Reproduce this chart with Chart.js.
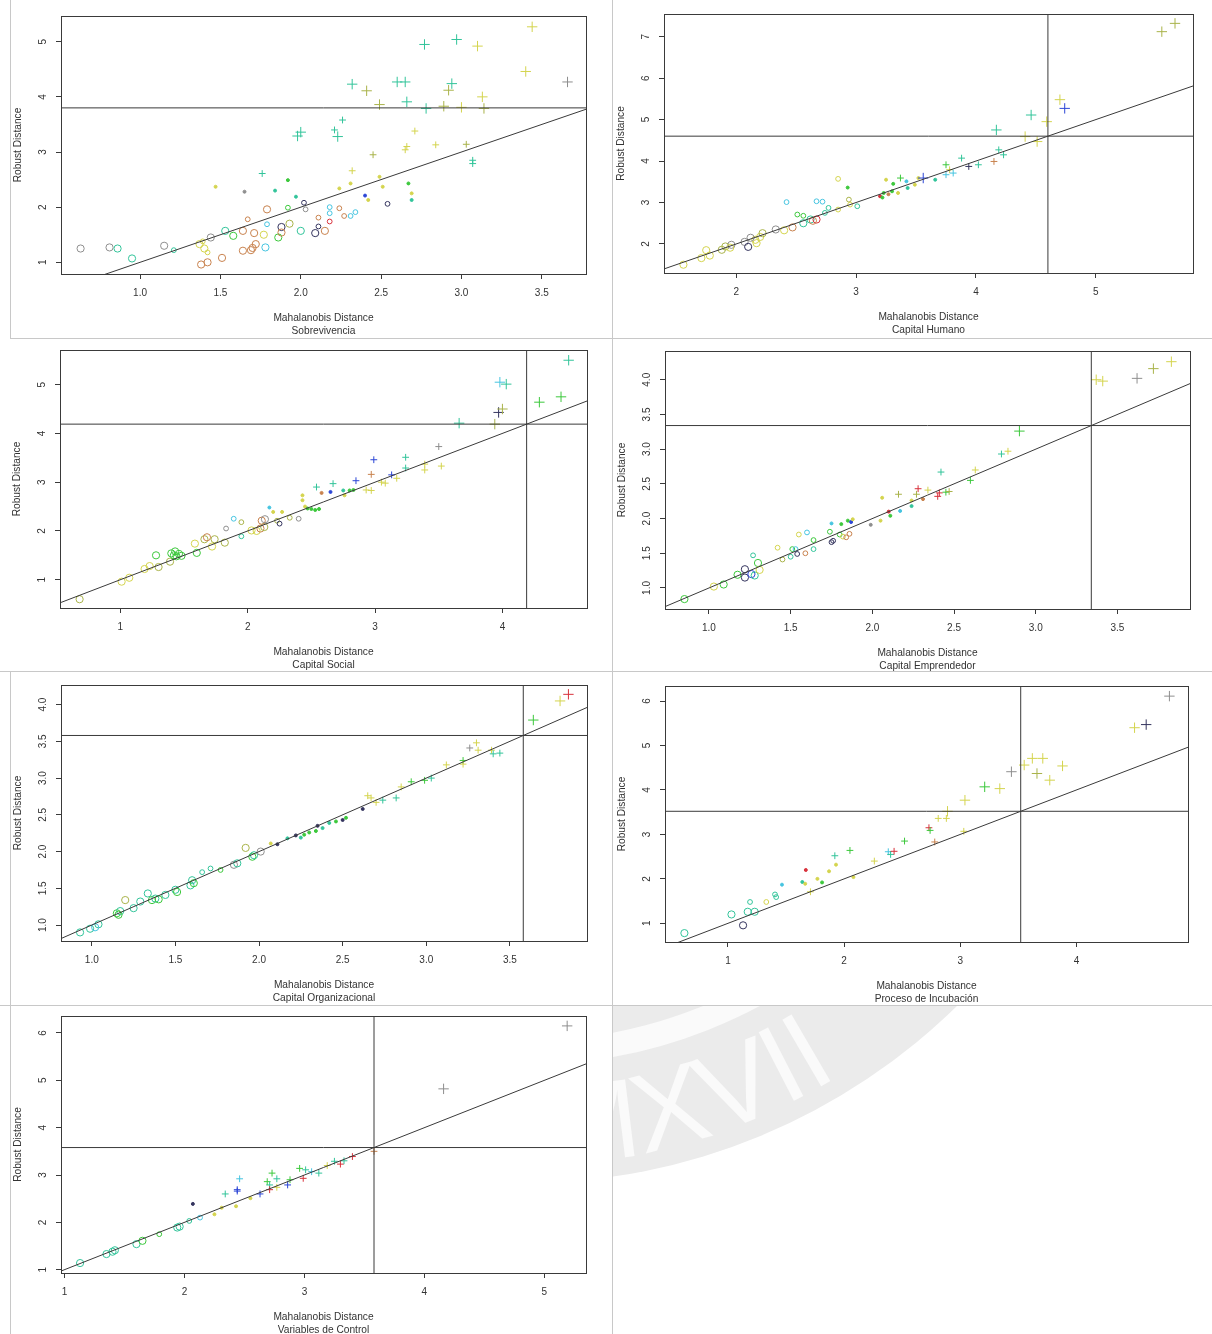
<!DOCTYPE html>
<html><head><meta charset="utf-8">
<script src="https://cdn.jsdelivr.net/npm/chart.js@4.4.0/dist/chart.umd.min.js"></script>
<style>
html,body{margin:0;padding:0;background:#fff;width:1212px;height:1334px;overflow:hidden;position:relative}
canvas{position:absolute}
.ln{position:absolute;background:#c8c8c8}
#seal{position:absolute;left:613px;top:1006px}
</style></head><body>
<svg id="seal" width="599" height="328" viewBox="0 0 599 328">
  <defs><path id="sealArc" d="M -205.2 563.8 A 600 600 0 0 0 563.8 205.2"/></defs>
  <g transform="translate(-89,-441)">
    <circle cx="0" cy="0" r="618" fill="#ebebeb"/>
    <circle cx="0" cy="0" r="488" fill="none" stroke="#fafafa" stroke-width="24"/>
    <text font-family="Liberation Sans, Arial, sans-serif" font-size="112" fill="#fafafa">
      <textPath href="#sealArc" startOffset="62">MCMXVII</textPath>
    </text>
  </g>
</svg>
<div class="ln" style="left:10px;top:0;width:1px;height:338px"></div>
<div class="ln" style="left:10px;top:672px;width:1px;height:662px"></div>
<div class="ln" style="left:612px;top:0;width:1px;height:1334px"></div>
<div class="ln" style="left:10px;top:338px;width:1202px;height:1px"></div>
<div class="ln" style="left:0;top:671px;width:1212px;height:1px"></div>
<div class="ln" style="left:0;top:1005px;width:1212px;height:1px"></div>
<canvas id="c0" width="606" height="340" style="left:0;top:0"></canvas>
<canvas id="c1" width="606" height="340" style="left:606px;top:0"></canvas>
<canvas id="c2" width="606" height="340" style="left:0;top:338px"></canvas>
<canvas id="c3" width="606" height="340" style="left:606px;top:338px"></canvas>
<canvas id="c4" width="606" height="340" style="left:0;top:672px"></canvas>
<canvas id="c5" width="606" height="340" style="left:606px;top:672px"></canvas>
<canvas id="c6" width="606" height="340" style="left:0;top:1005px"></canvas>
<script>
// ---------------- DATA ----------------
const subsets = ['Sobrevivencia','Capital Humano','Capital Social','Capital Emprendedor','Capital Organizacional','Proceso de Incubación','Variables de Control'];
const xTitle = 'Mahalanobis Distance';
const yTitle = 'Robust Distance';
const cutoffs = [3.80, 4.60, 4.19, 3.34, 3.58, 3.52, 3.58];
const xLimits = [[0.508,3.775],[1.398,5.81],[0.526,4.664],[0.731,3.944],[0.816,3.961],[0.458,4.96],[0.971,5.347]];
const yLimits = [[0.788,5.466],[1.30,7.546],[0.42,5.71],[0.697,4.414],[0.783,4.267],[0.58,6.338],[0.93,6.359]];
const xTicks = [
  ['1.0','1.5','2.0','2.5','3.0','3.5'], ['2','3','4','5'], ['1','2','3','4'],
  ['1.0','1.5','2.0','2.5','3.0','3.5'], ['1.0','1.5','2.0','2.5','3.0','3.5'],
  ['1','2','3','4'], ['1','2','3','4','5']
];
const yTicks = [
  ['1','2','3','4','5'], ['2','3','4','5','6','7'], ['1','2','3','4','5'],
  ['1.0','1.5','2.0','2.5','3.0','3.5','4.0'], ['1.0','1.5','2.0','2.5','3.0','3.5','4.0'],
  ['1','2','3','4','5','6'], ['1','2','3','4','5','6']
];

// Sobrevivencia
const sobX = [0.63,0.81,0.86,0.95,1.15,1.21,1.37,1.40,1.39,1.42,
 1.44,1.38,1.42,1.51,1.58,1.64,1.64,1.69,1.70,1.72,
 1.71,1.67,1.77,1.79,1.78,1.79,1.86,1.88,1.88,1.92,
 1.93,2.00,2.02,2.03,2.09,2.15,2.11,2.11,2.18,2.18,
 2.18,2.24,2.27,2.31,2.34,2.54,1.53,1.47,1.65,1.76,
 1.84,1.92,1.97,2.42,2.40,2.24,2.69,2.69,2.67,2.51,
 2.49,2.31,2.32,2.45,2.65,2.66,2.71,2.84,3.03,3.07,
 3.07,1.98,2.00,2.21,2.23,2.26,2.32,2.41,2.49,2.60,
 2.65,2.66,2.77,2.78,2.89,2.92,2.94,2.97,3.00,3.10,
 3.13,3.14,3.40,3.44,3.66];
const sobY = [1.25,1.27,1.25,1.07,1.30,1.22,1.33,1.25,1.38,1.18,
 1.45,0.96,1.00,1.08,1.48,1.57,1.21,1.22,1.26,1.33,
 1.53,1.78,1.50,1.69,1.27,1.96,1.45,1.64,1.54,1.99,
 1.70,1.57,2.08,1.96,1.53,1.57,1.81,1.65,2.00,1.89,
 1.74,1.98,1.84,1.84,1.91,2.06,1.57,2.37,2.28,2.61,
 2.30,2.49,2.19,2.13,2.21,2.34,2.25,2.13,2.43,2.37,
 2.55,2.43,2.66,2.95,3.04,3.10,3.38,3.13,3.14,2.85,
 2.79,3.29,3.36,3.40,3.28,3.58,4.23,4.11,3.86,4.27,
 4.27,3.91,4.95,3.79,3.83,4.12,4.24,5.04,3.81,4.92,
 4.00,3.79,4.46,5.27,4.27];
const sobCls = 'OOOOOoOOooOOOOOOOOOOOoOoOOOOOoOOooOOooooooooooO..+............+++++++++PP+P+PPPPPPPPPPPPPPPPPPP';
const sobGrp = 'kkttktyyyykooogoooooooyccognogltnknoonccrooccntykttgtybyytgyyyylyyyylttttttttlltttttllttyyylyykyy';

// Capital Humano
const humX = [1.56,1.71,1.75,1.78,1.88,1.91,1.96,2.07,2.10,2.16,
 2.20,2.22,2.17,2.12,2.33,2.42,2.47,2.51,2.56,2.56,
 2.62,2.67,2.64,2.67,2.72,2.77,2.74,2.85,2.85,2.94,
 2.95,3.01,2.40,1.95,2.93,3.20,3.22,3.23,3.27,3.30,
 3.25,3.31,3.35,3.42,3.43,3.49,3.52,3.66,3.37,3.56,
 3.75,3.75,3.78,3.81,3.88,3.94,4.02,4.15,4.17,4.19,
 4.23,4.41,4.51,4.46,4.59,4.70,4.74,5.55,5.66];
const humY = [1.50,1.66,1.85,1.72,1.86,1.94,1.98,2.05,1.93,2.10,
 2.17,2.26,2.02,2.15,2.35,3.01,2.40,2.71,2.68,2.50,
 2.59,2.59,2.56,3.03,3.02,2.87,2.75,3.57,2.83,3.07,
 2.95,2.91,2.33,1.91,3.36,3.15,3.12,3.23,3.20,3.27,
 3.55,3.45,3.23,3.51,3.35,3.43,3.59,3.55,3.59,3.59,
 3.91,3.67,3.79,3.71,4.07,3.87,3.91,3.99,4.75,4.27,
 4.15,4.59,4.47,5.11,4.95,5.48,5.27,7.12,7.32];
const humCls = 'OOOOOOOOOOOOOOOoOooOOOOoooooooooOO..............+P++++++++P++PPPPPPPP';
const humGrp = 'yyyyllkknyylykkcoggttroccttyylytyygrggogygyctyytgbgcyctntotttyytyybll';

// Capital Social
const socX = [0.68,1.01,1.07,1.19,1.23,1.30,1.28,1.39,1.40,1.43,
 1.44,1.42,1.46,1.48,1.585,1.60,1.66,1.68,1.74,1.72,
 1.82,1.83,1.89,1.95,1.95,2.03,2.07,2.10,2.13,2.11,
 2.135,2.23,2.25,2.33,2.40,2.17,2.20,2.27,2.43,2.43,
 2.45,2.47,2.50,2.53,2.56,2.58,2.65,2.75,2.76,2.80,
 2.83,2.54,2.67,2.85,2.93,2.97,2.97,2.99,3.05,3.08,
 3.13,3.17,3.24,3.24,3.39,3.39,3.50,3.52,3.66,3.94,
 3.97,4.00,3.98,4.03,4.29,4.46,4.52];
const socY = [0.60,0.96,1.04,1.22,1.28,1.26,1.50,1.37,1.54,1.58,
 1.48,1.50,1.53,1.49,1.74,1.55,1.83,1.87,1.83,1.68,
 1.76,2.05,2.25,2.18,1.89,2.01,2.00,2.05,2.08,2.21,
 2.24,2.21,2.15,2.27,2.25,2.48,2.39,2.39,2.73,2.63,
 2.50,2.46,2.45,2.43,2.45,2.78,2.80,2.83,2.73,2.83,
 2.84,2.90,2.97,3.03,2.84,2.83,3.16,3.46,3.00,2.98,
 3.15,3.08,3.51,3.29,3.37,3.25,3.73,3.33,4.21,4.19,
 4.43,4.50,5.05,5.01,4.64,4.75,5.50];
const socCls = 'OOOOOOOOOOOOOOOOOOOOOooooOOOOOOoooo................+++++++++++++++++PPPPPPPPP';
const socGrp = 'lyyyylglggggggyglolylkcltyyoloklnlkcyyyyyggggobtyggttbyyobyybyttyykytlnlctggt';

// Capital Emprendedor
const empX = [0.85,1.03,1.09,1.175,1.22,1.22,1.26,1.28,1.27,1.30,
 1.31,1.42,1.45,1.50,1.51,1.53,1.54,1.55,1.59,1.60,
 1.64,1.64,1.74,1.75,1.76,1.80,1.82,1.84,1.86,1.75,
 1.81,1.85,1.87,1.88,1.99,2.05,2.06,2.10,2.11,2.17,
 2.24,2.24,2.31,2.16,2.27,2.28,2.34,2.40,2.41,2.42,
 2.45,2.47,2.60,2.63,2.79,2.83,2.90,3.37,3.41,3.62,
 3.72,3.83];
const empY = [0.84,1.02,1.05,1.19,1.27,1.15,1.20,1.18,1.47,1.36,
 1.26,1.58,1.41,1.45,1.56,1.56,1.49,1.77,1.50,1.80,
 1.56,1.69,1.81,1.66,1.68,1.77,1.74,1.73,1.78,1.93,
 1.92,1.97,1.95,1.99,1.91,1.97,2.30,2.10,2.04,2.11,
 2.18,2.26,2.28,2.35,2.35,2.43,2.41,2.32,2.37,2.67,
 2.38,2.39,2.55,2.70,2.93,2.97,3.26,4.00,3.98,4.02,
 4.16,4.26];
const empCls = 'OOOOOOOOoOOoooooooooooooooooo..............+++++++++++++PPPPPP';
const empGrp = 'gyggnnbttgyyltgcnyoctggnngyoocggbykyyrgctyollryrrtglgytygyykly';

// Capital Organizacional
const orgX = [0.93,0.99,1.04,1.02,1.15,1.17,1.16,1.20,1.25,1.29,
 1.335,1.36,1.38,1.40,1.44,1.50,1.51,1.59,1.60,1.61,
 1.66,1.71,1.77,1.85,1.87,1.92,1.96,1.97,2.01,2.07,
 2.11,2.17,2.22,2.25,2.27,2.30,2.34,2.35,2.38,2.42,
 2.46,2.50,2.52,2.62,2.65,2.67,2.70,2.74,2.82,2.85,
 2.91,2.99,3.03,3.12,3.22,3.22,3.26,3.30,3.31,3.39,
 3.40,3.44,3.64,3.80,3.85];
const orgY = [0.90,0.95,1.01,0.97,1.16,1.19,1.14,1.34,1.23,1.32,
 1.43,1.34,1.36,1.35,1.41,1.48,1.45,1.54,1.61,1.57,
 1.72,1.77,1.75,1.82,1.84,2.05,1.93,1.95,2.00,2.11,
 2.10,2.18,2.22,2.19,2.23,2.26,2.28,2.35,2.32,2.39,
 2.41,2.43,2.46,2.58,2.76,2.73,2.67,2.70,2.73,2.88,
 2.95,2.97,3.00,3.18,3.24,3.19,3.41,3.48,3.38,3.38,
 3.33,3.34,3.79,4.05,4.14];
const orgCls = 'OOOOOOOOOOOOOOOOOOOOoooOOOOOO...............++++++++++++++++++PPP';
const orgGrp = 'tttcgtgltttgtgttgttgttgktlgtkyntntgggnttgngnyyyttyggtygykyyyttgyr';

// Proceso de Incubación
const incX = [0.625,1.03,1.13,1.17,1.23,1.19,1.33,1.405,1.415,1.465,
 1.64,1.67,1.665,1.77,1.81,1.87,1.93,2.08,1.71,1.92,
 2.05,2.26,2.38,2.40,2.43,2.52,2.73,2.74,2.78,2.81,
 2.88,2.89,3.03,3.04,3.21,3.34,3.44,3.55,3.62,3.66,
 3.71,3.77,3.88,4.50,4.60,4.80];
const incY = [0.78,1.20,0.955,1.26,1.26,1.48,1.48,1.65,1.59,1.87,
 1.93,2.20,1.89,2.00,1.92,2.17,2.32,2.04,1.71,2.52,
 2.64,2.40,2.61,2.55,2.62,2.85,3.15,3.09,2.83,3.36,
 3.36,3.52,3.07,3.77,4.07,4.03,4.41,4.56,4.71,4.37,
 4.71,4.22,4.54,5.40,5.47,6.11];
const incCls = 'OOOOOoooo.........+++++++++++++P+PPPPPPPPPPPPP';
const incGrp = 'ttntttyttctryygyyyytgyctrgrgoyyyyygykyylyyyynk';

// Variables de Control
const ctlX = [1.13,1.35,1.42,1.40,1.60,1.65,1.79,1.94,1.96,2.04,
 2.13,2.07,2.25,2.31,2.43,2.55,2.34,2.46,2.44,2.44,
 2.63,2.69,2.71,2.73,2.77,2.77,2.71,2.86,2.88,2.96,
 2.99,3.01,3.06,3.12,3.19,3.25,3.30,3.33,3.40,3.58,
 4.16,5.19];
const ctlY = [1.14,1.33,1.41,1.38,1.54,1.61,1.75,1.89,1.91,2.03,
 2.10,2.39,2.17,2.31,2.34,2.51,2.60,2.92,2.69,2.66,
 2.60,2.86,2.79,3.04,2.92,2.74,2.69,2.79,2.90,3.14,
 2.93,3.11,3.07,3.04,3.20,3.29,3.23,3.30,3.39,3.50,
 4.82,6.15];
const ctlCls = 'OOOOOOoOOoo.....++++++++++++++++++++++++PP';
const ctlGrp = 'tttttggtttcnyyyytcbbbgtgtyrbggrtctytrtrokk';

const panels = [
  [sobX, sobY, sobCls, sobGrp], [humX, humY, humCls, humGrp], [socX, socY, socCls, socGrp],
  [empX, empY, empCls, empGrp], [orgX, orgY, orgCls, orgGrp], [incX, incY, incCls, incGrp],
  [ctlX, ctlY, ctlCls, ctlGrp]
];

// ---------------- STYLE ----------------
const FONT = '"Liberation Sans", Arial, sans-serif';
const TEXT = '#333333';
const LINE = '#3a3a3a';
const PAL = { r:'#d8323c', o:'#c8824e', y:'#d4d44e', l:'#a9b34a', g:'#3cc83c', t:'#32c49a',
              c:'#46c4e0', b:'#2c46d6', n:'#34345e', k:'#8e8e8e' };
const SYM = { O:{style:'circle', r:3.6, fill:false}, o:{style:'circle', r:2.4, fill:false},
              '.':{style:'circle', r:1.5, fill:true}, '+':{style:'cross', r:3.4, fill:false},
              P:{style:'cross', r:5.2, fill:false} };
// plot boxes inside each 606x340 canvas
const boxes = [
  {l:61,r:586,t:16,b:274},{l:58,r:587,t:14,b:273},{l:60,r:587,t:12,b:270},{l:59,r:584,t:13,b:271},
  {l:61,r:587,t:13,b:269},{l:59,r:582,t:14,b:270},{l:61,r:586,t:11,b:268}
];
const YW = 50, XH = 64, CW = 606, CH = 340;

Chart.defaults.font.family = FONT;
Chart.defaults.color = TEXT;

const framePlugin = {
  id: 'frame',
  afterDraw(chart) {
    const {ctx, chartArea: a, scales} = chart;
    ctx.save();
    ctx.strokeStyle = LINE; ctx.lineWidth = 1;
    ctx.strokeRect(Math.round(a.left) + 0.5, Math.round(a.top) + 0.5,
                   Math.round(a.right - a.left), Math.round(a.bottom - a.top));
    const ys = scales.y;
    ctx.fillStyle = TEXT;
    ctx.font = '10px ' + FONT;
    ctx.textAlign = 'center'; ctx.textBaseline = 'middle';
    ys.ticks.forEach(t => {
      const py = ys.getPixelForValue(t.value);
      ctx.save();
      ctx.translate(a.left - 17.5, py);
      ctx.rotate(-Math.PI / 2);
      ctx.fillText(t.text, 0, 0);
      ctx.restore();
    });
    ctx.restore();
  }
};

panels.forEach((p, i) => {
  const [xs, ys, cls, grp] = p;
  const box = boxes[i];
  const [x0, x1] = xLimits[i], [y0, y1] = yLimits[i];
  const c = cutoffs[i];
  const lo = Math.min(x0, y0), hi = Math.max(x1, y1);
  const sym = idx => SYM[cls[idx]] || SYM.O;
  const col = idx => PAL[grp[idx]] || PAL.k;
  const lineDs = (data) => ({ data, showLine: true, pointRadius: 0, borderColor: LINE,
                              borderWidth: 1, fill: false, order: 0 });
  const setTicks = labels => scale => {
    scale.ticks = labels.map(s => ({ value: parseFloat(s), label: s, text: s }));
  };
  new Chart(document.getElementById('c' + i), {
    type: 'scatter',
    data: {
      datasets: [
        {
          label: 'Observaciones',
          data: xs.map((x, k) => ({ x, y: ys[k] })),
          pointStyle: ctx => sym(ctx.dataIndex ?? 0).style,
          pointRadius: ctx => sym(ctx.dataIndex ?? 0).r,
          borderColor: ctx => col(ctx.dataIndex ?? 0),
          backgroundColor: ctx => sym(ctx.dataIndex ?? 0).fill ? col(ctx.dataIndex ?? 0) : 'rgba(0,0,0,0)',
          borderWidth: 1,
          order: 1
        },
        lineDs([{x: lo, y: lo}, {x: hi, y: hi}]),
        lineDs([{x: x0, y: c}, {x: x1, y: c}]),
        lineDs([{x: c, y: y0}, {x: c, y: y1}])
      ]
    },
    options: {
      responsive: false,
      animation: false,
      events: [],
      layout: { autoPadding: false,
        padding: { left: box.l - YW, right: CW - box.r, top: box.t, bottom: CH - box.b - XH } },
      plugins: { legend: { display: false }, tooltip: { enabled: false } },
      scales: {
        x: {
          type: 'linear', position: 'bottom', min: x0, max: x1, bounds: 'data',
          afterBuildTicks: setTicks(xTicks[i]),
          afterFit: s => { s.height = XH; },
          border: { display: false },
          grid: { drawOnChartArea: false, drawTicks: true, tickLength: 5, color: LINE, tickColor: LINE },
          ticks: { autoSkip: false, maxRotation: 0, minRotation: 0,
                   padding: 8, color: TEXT, font: { size: 10 },
                   callback: (v, idx) => xTicks[i][idx] },
          title: { display: true, text: [xTitle, subsets[i]], color: TEXT,
                   font: { size: 10.2, lineHeight: 1.25 }, padding: { top: 0, bottom: 0.5 } }
        },
        y: {
          type: 'linear', position: 'left', min: y0, max: y1, bounds: 'data',
          afterBuildTicks: setTicks(yTicks[i]),
          afterFit: s => { s.width = YW; },
          border: { display: false },
          grid: { drawOnChartArea: false, drawTicks: true, tickLength: 5, color: LINE, tickColor: LINE },
          ticks: { display: false },
          title: { display: true, text: yTitle, color: TEXT,
                   font: { size: 10.2, lineHeight: 1.25 }, padding: { top: 0.5, bottom: 0 } }
        }
      }
    },
    plugins: [framePlugin]
  });
});
</script>
</body></html>
